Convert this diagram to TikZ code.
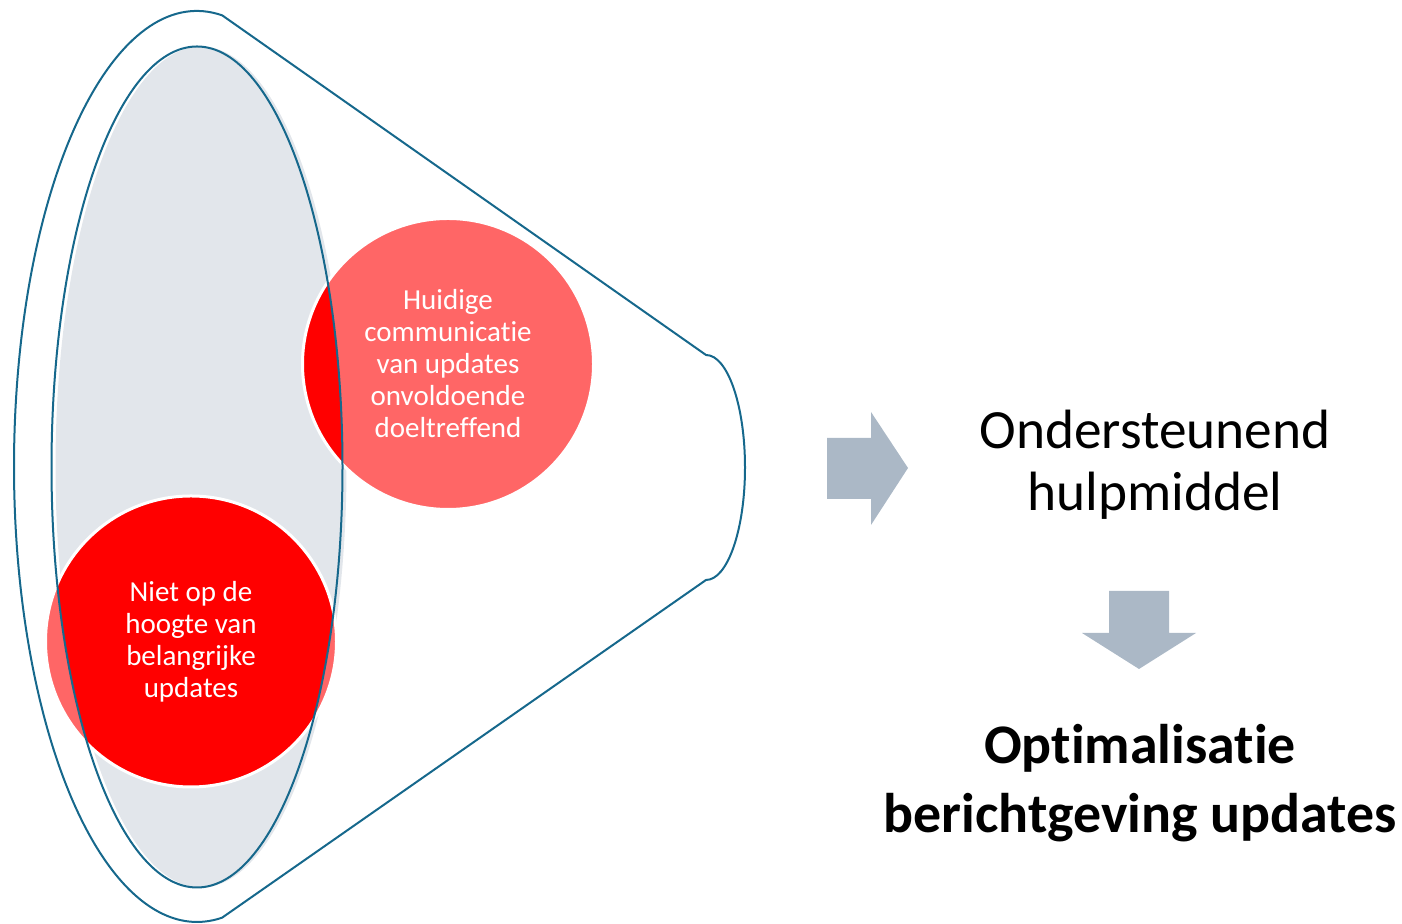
\documentclass[tikz,border=0pt]{standalone}
\usepackage{fontspec}
\setmainfont{Carlito}[Ligatures=NoCommon]
\usetikzlibrary{calc}

\definecolor{rim}{RGB}{22,104,140}
\definecolor{paleblue}{RGB}{226,230,235}
\definecolor{lightred}{RGB}{255,102,102}
\definecolor{arrowgray}{RGB}{171,184,198}

\tikzset{
  rim line/.style={draw=rim, line width=0.4mm},
  bubble/.style={circle, minimum size=58.2mm, inner sep=0pt, draw=white, line width=0.6mm,
    fill=lightred, text=white, align=center, font=\fontsize{16.5}{18.2}\selectfont,
    path picture={\fill[red] (ictr) ellipse[x radius=145.5, y radius=420.5];}},
  bigtext/.style={align=center, font=\fontsize{31.5}{35.3}\selectfont}
}

\begin{document}
\begin{tikzpicture}[x=0.2mm, y=0.2mm]
\useasboundingbox (0,0) rectangle (1402,924);
\coordinate (lctr) at (197,457.5);
\coordinate (rctr) at (706,456.5);
\coordinate (ictr) at (197,457);
% inner ellipse with its shadow fill
\fill[paleblue] ($(ictr)+(4,0)$) ellipse[x radius=145.5, y radius=420.5];
% the two circles
\node[bubble] (huidig) at (448,560) {Huidige\\communicatie\\van updates\\onvoldoende\\doeltreffend};
\node[bubble] (hoogte) at (191,282.5) {Niet op de\\hoogte van\\belangrijke\\updates};
\draw[rim line] (ictr) ellipse[x radius=145.5, y radius=420.5];
% funnel
\draw[rim line] ($(lctr)+(82.1:183 and 455.5)$) arc[start angle=82.1, end angle=277.9, x radius=183, y radius=455.5]
  -- ($(rctr)+(0,-112.5)$) arc[start angle=-90, end angle=90, x radius=39, y radius=112.5] -- cycle;
% block arrows
\fill[arrowgray] (827,486) -- (871,486) -- (871,512) -- (908,456) -- (871,399) -- (871,425) -- (827,425) -- cycle;
\fill[arrowgray] (1109,333) -- (1169,333) -- (1169,291) -- (1196,291) -- (1139,255) -- (1082,291) -- (1109,291) -- cycle;
\node[bigtext] (hulp) at (1155,459) {Ondersteunend\\hulpmiddel};
\node[bigtext, font=\fontsize{31.8}{39.2}\selectfont\bfseries] (optim) at (1140,141) {Optimalisatie\\berichtgeving updates};
\end{tikzpicture}
\end{document}
